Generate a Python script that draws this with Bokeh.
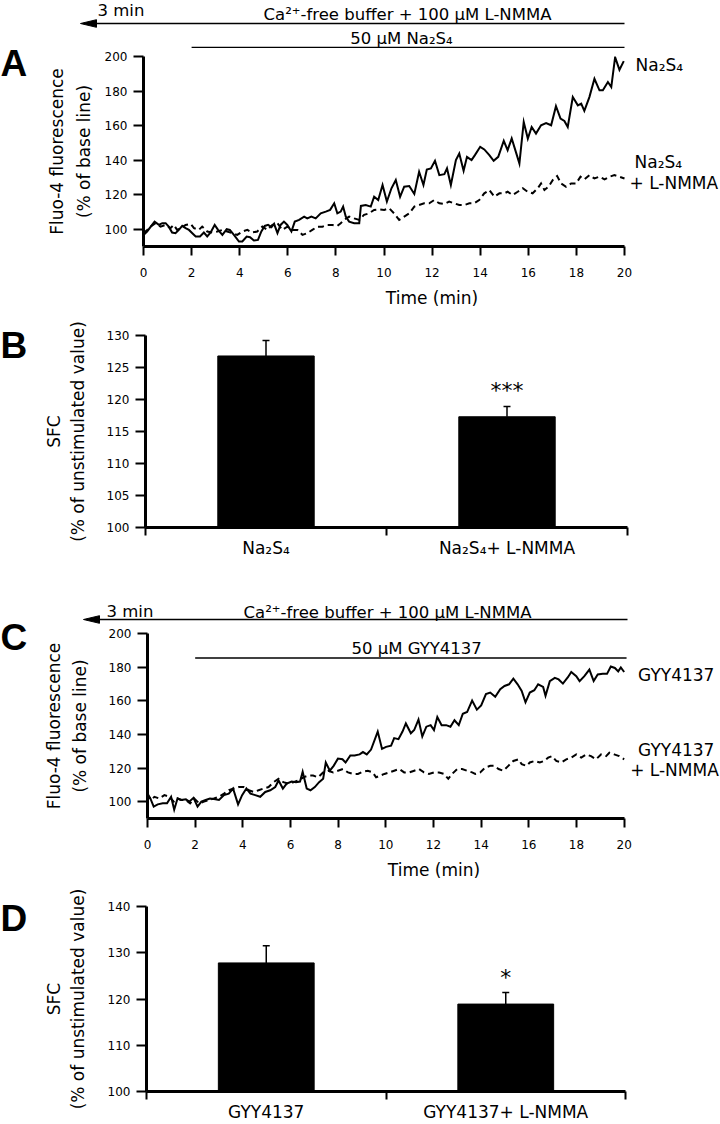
from bokeh.plotting import figure
from bokeh.models import (Range1d, FixedTicker, Label, Whisker, TeeHead, ColumnDataSource)
from bokeh.layouts import column, row
from bokeh.embed import file_html
from bokeh.resources import INLINE

FONT = "DejaVu Sans"

# ---------------- data ----------------
time_ticks = [0, 2, 4, 6, 8, 10, 12, 14, 16, 18, 20]
fluo_ticks = [100, 120, 140, 160, 180, 200]
sfc_ticks_b = [100, 105, 110, 115, 120, 125, 130]
sfc_ticks_d = [100, 110, 120, 130, 140]

# Panel A: Na2S4 (solid)
a_t = [0.00, 0.15, 0.46, 0.64, 0.78, 0.92, 1.05, 1.19, 1.33, 1.47, 1.61, 1.75, 1.89, 2.03,
       2.17, 2.35, 2.51, 2.65, 2.79, 2.96, 3.10, 3.28, 3.46, 3.59, 3.76, 3.97, 4.11, 4.29,
       4.43, 4.59, 4.76, 4.90, 5.04, 5.18, 5.32, 5.43, 5.57, 5.70, 5.84, 5.98, 6.15, 6.29,
       6.47, 6.68, 6.81, 6.98, 7.16, 7.37, 7.58, 7.76, 7.93, 8.06, 8.20, 8.30, 8.41, 8.55,
       8.76, 8.97, 9.04, 9.24, 9.45, 9.59, 9.76, 9.94, 10.12, 10.31, 10.49, 10.67, 10.84,
       11.05, 11.26, 11.46, 11.64, 11.78, 11.95, 12.12, 12.30, 12.51, 12.62, 12.78, 12.99,
       13.13, 13.31, 13.45, 13.64, 13.78, 14.00, 14.17, 14.38, 14.56, 14.75, 14.98, 15.14,
       15.31, 15.63, 15.81, 15.98, 16.14, 16.32, 16.53, 16.74, 16.95, 17.15, 17.34, 17.50,
       17.64, 17.85, 18.06, 18.20, 18.33, 18.54, 18.75, 18.96, 19.10, 19.31, 19.45, 19.61,
       19.79, 19.97]
a_na2s4 = [96.7, 98.7, 104.4, 102.5, 103.5, 103.5, 101.5, 98.1, 97.7, 99.6, 101.9, 100.6,
           99.6, 97.7, 95.8, 95.8, 98.1, 95.8, 98.1, 102.5, 99.6, 96.7, 100.0, 99.6, 96.7,
           92.9, 92.9, 95.8, 95.4, 93.5, 93.8, 98.7, 101.9, 102.5, 101.2, 103.1, 97.7, 102.5,
           104.4, 102.5, 98.7, 104.4, 105.4, 107.3, 106.3, 107.3, 106.3, 109.2, 110.2, 111.2,
           115.0, 109.2, 110.2, 113.1, 107.3, 104.4, 103.5, 103.5, 113.5, 114.0, 113.1, 118.8,
           116.9, 125.6, 116.0, 123.7, 128.5, 118.8, 124.6, 125.0, 120.4, 133.3, 125.6, 134.6,
           135.2, 139.6, 131.3, 131.9, 135.2, 125.6, 140.0, 143.8, 133.8, 141.9, 140.0, 142.9,
           147.7, 146.2, 142.9, 139.6, 141.9, 151.2, 145.8, 152.5, 138.1, 162.1, 152.5, 159.2,
           155.4, 160.2, 161.5, 160.2, 171.2, 164.0, 162.7, 159.2, 176.5, 171.7, 172.7, 168.5,
           176.5, 187.1, 180.4, 180.4, 185.2, 182.3, 199.6, 192.3, 197.3]

# Panel A: Na2S4 + L-NMMA (dashed)
a_t2 = [0.00, 0.15, 0.29, 0.50, 0.71, 0.92, 1.12, 1.26, 1.40, 1.54, 1.75, 1.96, 2.10, 2.30,
        2.44, 2.65, 2.86, 3.07, 3.28, 3.48, 3.69, 3.90, 4.11, 4.32, 4.52, 4.73, 4.94, 5.15,
        5.36, 5.57, 5.77, 5.98, 6.19, 6.40, 6.61, 6.81, 7.02, 7.23, 7.44, 7.65, 7.86, 8.06,
        8.20, 8.34, 8.55, 8.76, 8.97, 9.17, 9.38, 9.59, 9.80, 10.01, 10.22, 10.42, 10.63,
        10.84, 11.05, 11.26, 11.46, 11.67, 11.88, 12.09, 12.30, 12.51, 12.71, 12.92, 13.13,
        13.34, 13.55, 13.75, 13.96, 14.17, 14.38, 14.59, 14.80, 15.00, 15.14, 15.35, 15.56,
        15.77, 15.97, 16.18, 16.39, 16.53, 16.67, 16.84, 17.02, 17.20, 17.36, 17.57, 17.78,
        17.99, 18.17, 18.33, 18.54, 18.75, 18.96, 19.17, 19.38, 19.58, 19.79, 20.00]
a_lnmma = [97.7, 99.6, 101.5, 103.5, 101.5, 102.5, 100.6, 102.5, 99.6, 100.6, 102.5, 103.1,
           100.6, 99.6, 101.5, 98.7, 98.1, 98.7, 99.6, 98.7, 97.7, 96.7, 98.7, 99.6, 98.1,
           98.7, 101.5, 99.6, 102.5, 103.5, 99.6, 101.5, 99.6, 99.6, 96.7, 97.7, 99.6, 101.5,
           101.5, 102.5, 102.5, 101.9, 103.5, 105.4, 107.3, 106.3, 105.4, 108.3, 109.2, 111.2,
           111.5, 111.2, 112.1, 109.2, 105.4, 107.3, 109.2, 113.1, 114.0, 115.0, 115.0, 116.9,
           115.0, 114.6, 116.0, 115.0, 114.0, 114.0, 115.0, 115.0, 116.9, 120.8, 122.7, 118.8,
           120.8, 120.8, 121.7, 119.8, 121.7, 123.7, 121.7, 120.8, 123.7, 126.5, 122.7, 124.6,
           128.5, 130.8, 126.5, 124.6, 126.5, 126.5, 130.4, 128.8, 131.3, 129.4, 130.4, 128.8,
           130.4, 131.3, 130.4, 129.4]

# Panel B
b_groups = ["Na\u2082S\u2084", "Na\u2082S\u2084+ L-NMMA"]
b_means = [126.8, 117.3]
b_sem = [2.4, 1.6]
b_sig = ["", "***"]

# Panel C: GYY4137 (solid)
c_t = [0.00, 0.12, 0.26, 0.43, 0.64, 0.82, 0.99, 1.12, 1.26, 1.40, 1.61, 1.75, 1.93, 2.10,
       2.26, 2.44, 2.62, 2.79, 3.00, 3.21, 3.41, 3.59, 3.80, 3.97, 4.15, 4.32, 4.52, 4.73,
       4.94, 5.15, 5.36, 5.50, 5.68, 5.84, 6.05, 6.23, 6.40, 6.51, 6.68, 6.84, 7.02, 7.20,
       7.37, 7.48, 7.65, 7.81, 7.99, 8.18, 8.31, 8.51, 8.69, 8.90, 9.04, 9.20, 9.38, 9.66,
       9.84, 10.01, 10.22, 10.35, 10.53, 10.70, 10.84, 11.05, 11.19, 11.37, 11.53, 11.70,
       11.88, 12.02, 12.16, 12.34, 12.53, 12.71, 12.88, 13.06, 13.23, 13.41, 13.62, 13.82,
       14.00, 14.20, 14.38, 14.59, 14.80, 14.98, 15.17, 15.35, 15.53, 15.70, 15.86, 16.04,
       16.23, 16.39, 16.60, 16.70, 16.88, 17.09, 17.25, 17.43, 17.64, 17.78, 17.99, 18.13,
       18.33, 18.54, 18.72, 18.89, 19.10, 19.28, 19.44, 19.61, 19.75, 19.86, 20.00]
c_gyy = [103.9, 101.9, 97.1, 98.4, 99.0, 99.0, 102.9, 95.2, 101.9, 101.0, 101.4, 100.0,
         102.3, 97.1, 100.0, 101.0, 101.9, 101.6, 101.0, 103.9, 104.8, 107.8, 98.4, 103.9,
         107.8, 104.8, 103.9, 102.9, 105.8, 106.8, 108.7, 112.6, 107.8, 110.7, 112.0, 111.6,
         112.0, 117.8, 107.8, 106.8, 108.7, 111.6, 113.6, 123.3, 118.4, 121.3, 125.6, 125.2,
         123.3, 127.5, 127.5, 128.1, 129.5, 128.1, 131.0, 141.7, 131.4, 132.6, 133.3, 137.8,
         137.2, 141.7, 146.5, 140.7, 142.6, 148.8, 138.8, 144.6, 145.5, 142.6, 150.4, 145.5,
         145.5, 144.6, 148.4, 145.5, 152.3, 153.3, 160.1, 154.7, 157.2, 164.0, 164.9, 162.4,
         166.9, 168.8, 169.8, 173.1, 169.8, 165.9, 159.1, 164.9, 166.3, 169.8, 168.2, 163.0,
         171.7, 173.6, 172.7, 170.2, 174.0, 177.1, 174.6, 171.7, 174.6, 178.5, 171.7, 175.6,
         176.0, 176.0, 180.4, 179.5, 177.5, 179.8, 177.1]

# Panel C: GYY4137 + L-NMMA (dashed)
c_t2 = [0.00, 0.15, 0.29, 0.50, 0.71, 0.92, 1.10, 1.26, 1.43, 1.61, 1.79, 1.96, 2.17, 2.37,
        2.58, 2.79, 3.00, 3.21, 3.41, 3.62, 3.83, 4.04, 4.25, 4.46, 4.66, 4.87, 5.08, 5.29,
        5.50, 5.70, 5.91, 6.12, 6.33, 6.54, 6.75, 6.95, 7.16, 7.37, 7.58, 7.79, 7.99, 8.20,
        8.41, 8.62, 8.83, 9.04, 9.24, 9.45, 9.59, 9.76, 9.94, 10.15, 10.35, 10.56, 10.77,
        10.98, 11.19, 11.39, 11.60, 11.81, 12.02, 12.23, 12.44, 12.62, 12.78, 12.99, 13.20,
        13.41, 13.62, 13.75, 13.96, 14.17, 14.38, 14.56, 14.73, 14.93, 15.14, 15.35, 15.56,
        15.70, 15.91, 16.04, 16.25, 16.46, 16.64, 16.81, 16.97, 17.15, 17.36, 17.57, 17.78,
        17.99, 18.20, 18.40, 18.61, 18.82, 19.03, 19.24, 19.38, 19.58, 19.79, 20.00]
c_lnmma = [104.8, 101.0, 102.9, 101.9, 103.9, 102.9, 100.0, 101.9, 101.0, 101.0, 99.0, 101.9,
           99.0, 100.0, 101.0, 101.9, 102.9, 104.8, 106.8, 107.8, 108.7, 108.7, 106.8, 105.8,
           106.8, 107.8, 108.7, 111.6, 113.6, 111.6, 110.7, 111.6, 112.6, 114.5, 115.5, 115.5,
           114.5, 117.4, 118.4, 117.4, 118.4, 119.4, 117.4, 116.5, 116.5, 117.8, 118.4, 117.4,
           114.5, 115.5, 116.5, 117.4, 118.4, 119.4, 117.4, 117.4, 118.4, 119.4, 117.4, 116.5,
           117.4, 117.4, 116.5, 113.6, 116.5, 119.4, 119.4, 118.4, 117.4, 116.5, 117.4, 120.3,
           121.3, 121.3, 119.4, 118.4, 121.3, 124.2, 125.2, 122.3, 121.3, 123.3, 124.2, 123.3,
           124.2, 126.2, 127.1, 124.2, 123.3, 125.2, 126.2, 128.1, 126.2, 128.1, 127.1, 125.2,
           128.1, 127.1, 129.1, 128.1, 127.1, 125.2]

# Panel D
d_groups = ["GYY4137", "GYY4137+ L-NMMA"]
d_means = [127.8, 118.9]
d_sem = [3.7, 2.5]
d_sig = ["", "*"]

panel_letters = ["A", "B", "C", "D"]

PAGE_W = 720
PAGE_H = 1124
LET_W = 40          # width of the strip holding the panel letters
MAIN_W = PAGE_W - LET_W
Y_LIFT = 5          # alphabetic-baseline correction for labels


def base_fig(w, h, xr, yr, bl=0, br=0, bt=0, bb=0, axes=True):
    kw = {}
    if not axes:
        kw = dict(x_axis_type=None, y_axis_type=None)
    p = figure(width=w, height=h, x_range=Range1d(*xr), y_range=Range1d(*yr),
               output_backend="svg", toolbar_location=None,
               min_border_left=bl, min_border_right=br, min_border_top=bt,
               min_border_bottom=bb, **kw)
    p.grid.visible = False
    p.outline_line_color = None
    p.background_fill_color = "white"
    p.border_fill_color = "white"
    return p


def lab(p, x, y, text, size="17px", align="left", baseline="alphabetic",
        font=FONT, style="normal"):
    p.add_layout(Label(x=x, y=y, text=text, text_font=font, text_font_size=size,
                       text_align=align, text_baseline=baseline, text_color="black",
                       text_font_style=style))


def style_axis(ax, tick_out, standoff, label_standoff, line_height):
    ax.axis_line_width = 3
    ax.axis_line_color = "black"
    ax.major_tick_line_width = 2
    ax.major_tick_line_color = "black"
    ax.major_tick_in = 0
    ax.major_tick_out = tick_out
    ax.minor_tick_line_color = None
    ax.major_label_text_font = FONT
    ax.major_label_text_font_size = "12px"
    ax.major_label_text_color = "black"
    ax.major_label_standoff = standoff
    ax.axis_label_text_font = FONT
    ax.axis_label_text_font_size = "17px"
    ax.axis_label_text_font_style = "normal"
    ax.axis_label_text_color = "black"
    ax.axis_label_standoff = label_standoff
    ax.axis_label_text_line_height = line_height


# one tall strip on the left with the panel letters (y in pixels from the top)
letters = base_fig(LET_W, PAGE_H, (0, LET_W), (PAGE_H, 0), axes=False)
for letter, y_mid in zip(panel_letters, [63, 345, 637, 918]):
    lab(letters, 0, y_mid, letter, size="37px", baseline="middle",
        font="Liberation Sans", style="bold")


def header_fig(h, y_top, px_per_min, items):
    # x in minutes (same mapping as the trace below), y in pixels from the top
    xr = ((LET_W - 143) / px_per_min, (PAGE_W - 143) / px_per_min)
    p = base_fig(MAIN_W, h, xr, (h, 0), axes=False)
    for kind, args in items:
        if kind == "text":
            x_px, y_px, txt, align = args
            lab(p, (x_px - 143) / px_per_min, y_px - y_top - Y_LIFT, txt,
                size="16.5px", align=align)
        elif kind == "arrow":
            tip_px, end_px, y_px = args
            y = y_px - y_top
            t_tip = (tip_px - 143) / px_per_min
            t_end = (end_px - 143) / px_per_min
            t_base = (tip_px + 16 - 143) / px_per_min
            p.line([t_base, t_end], [y, y], line_width=1.5, color="black")
            p.patch([t_tip, t_base, t_base], [y, y - 3.8, y + 3.8],
                    fill_color="black", line_color="black", line_width=1)
    return p


def trace_fig(y_top, y_bot, px_per_min, ft, fb, t1, v1, t2, v2, lab_standoff, lh):
    xr = (0, (PAGE_W - 143) / px_per_min)
    yr = (90, 200)
    p = base_fig(MAIN_W, y_bot - y_top, xr, yr, bl=143 - LET_W, br=0,
                 bt=ft - y_top, bb=y_bot - fb)
    p.xaxis.ticker = FixedTicker(ticks=time_ticks)
    p.xaxis.bounds = (0, 20)
    p.yaxis.ticker = FixedTicker(ticks=fluo_ticks)
    p.xaxis.axis_label = "Time (min)"
    p.yaxis.axis_label = "Fluo-4 fluorescence\n(% of base line)"
    style_axis(p.xaxis[0], 9, 12, 8, 1.2)
    style_axis(p.yaxis[0], 10, 6, lab_standoff, lh)
    p.line(t1, v1, line_width=2, color="black", line_join="miter")
    p.line(t2, v2, line_width=2, color="black", line_dash="6 4", line_join="miter")

    def X(px):
        return (px - 143) / px_per_min

    def Y(py):
        return 90 + (fb - py) / (fb - ft) * 110
    return p, X, Y


def bar_fig(y_top, y_bot, fr, ft, fb, yr, yticks, groups, means, sem, sig, sig_base,
            cat_standoff, lab_standoff):
    p = base_fig(MAIN_W, y_bot - y_top, (0, 2), yr, bl=143 - LET_W, br=PAGE_W - fr,
                 bt=ft - y_top, bb=y_bot - fb)
    centers = [0.5 + i for i in range(len(groups))]
    src = ColumnDataSource(dict(x=centers, top=means,
                                upper=[m + s for m, s in zip(means, sem)]))
    p.vbar(x="x", top="top", bottom=yr[0], width=0.4, source=src,
           fill_color="black", line_color="black")
    p.add_layout(Whisker(source=src, base="x", lower="top", upper="upper",
                         line_width=1.5, line_color="black",
                         upper_head=TeeHead(size=7, line_width=1.5, line_color="black"),
                         lower_head=None))
    p.xaxis.ticker = FixedTicker(ticks=centers, minor_ticks=[0, 1, 2])
    p.xaxis.major_label_overrides = {c: g for c, g in zip(centers, groups)}
    p.yaxis.ticker = FixedTicker(ticks=yticks)
    p.yaxis.axis_label = "SFC\n(% of unstimulated value)"
    style_axis(p.xaxis[0], 0, cat_standoff, 8, 1.2)
    p.xaxis.major_label_text_font_size = "17px"
    p.xaxis.minor_tick_line_color = "black"
    p.xaxis.minor_tick_line_width = 2
    p.xaxis.minor_tick_in = 0
    p.xaxis.minor_tick_out = 8
    style_axis(p.yaxis[0], 10, 6, lab_standoff, 1.2)
    scale = (fb - ft) / (yr[1] - yr[0])
    for c, s in zip(centers, sig):
        if s:
            lab(p, c, yr[0] + (fb - sig_base) / scale, s, size="22px", align="center")
    return p


# ---------------- Panel A ----------------
A_PPM = 24.05
hdr_a = header_fig(48, 0, A_PPM, [
    ("text", (97, 15, "3 min", "left")),
    ("arrow", (80, 624, 23)),
    ("text", (407, 19, "Ca\u00b2\u207a-free buffer + 100 \u03bcM L-NMMA", "center")),
    ("text", (401, 43, "50 \u03bcM Na\u2082S\u2084", "center")),
])
hdr_a.line([2, 20], [47, 47], line_width=1.5, color="black")
main_a, XA, YA = trace_fig(48, 310, A_PPM, 56, 247, a_t, a_na2s4, a_t2, a_lnmma, 8, 1.35)
lab(main_a, XA(635), YA(65), "Na\u2082S\u2084", baseline="middle")
lab(main_a, XA(634), YA(162), "Na\u2082S\u2084", baseline="middle")
lab(main_a, XA(629), YA(183), "+ L-NMMA", baseline="middle")

# ---------------- Panel B ----------------
main_b = bar_fig(310, 575, 627, 335, 527, (100, 130), sfc_ticks_b,
                 b_groups, b_means, b_sem, b_sig, 390, 2, 16)

# ---------------- Panel C ----------------
C_PPM = 24.0
hdr_c = header_fig(49, 575, C_PPM, [
    ("text", (106, 616, "3 min", "left")),
    ("arrow", (83, 627, 619)),
    ("text", (387, 617, "Ca\u00b2\u207a-free buffer + 100 \u03bcM L-NMMA", "center")),
])
main_c, XC, YC = trace_fig(624, 882, C_PPM, 633, 822, c_t, c_gyy, c_t2, c_lnmma, 16, 1.3)
lab(main_c, XC(414), YC(653 - Y_LIFT), "50 \u03bcM GYY4137", size="16.5px", align="center")
main_c.line([2, 20.1], [YC(658), YC(658)], line_width=1.5, color="black")
lab(main_c, XC(637), YC(675), "GYY4137", baseline="middle")
lab(main_c, XC(637), YC(752), "GYY4137", baseline="middle")
lab(main_c, XC(629), YC(772), "+ L-NMMA", baseline="middle")

# ---------------- Panel D ----------------
main_d = bar_fig(882, 1124, 625, 906, 1092, (100, 140), sfc_ticks_d,
                 d_groups, d_means, d_sem, d_sig, 977, 2, 17)

# each figure sits in its own row so that Bokeh does not align their frames
layout = row(
    letters,
    column(row(hdr_a), row(main_a), row(main_b), row(hdr_c), row(main_c), row(main_d),
           spacing=0),
    spacing=0,
)
open("out.html", "w").write(file_html(layout, INLINE))
